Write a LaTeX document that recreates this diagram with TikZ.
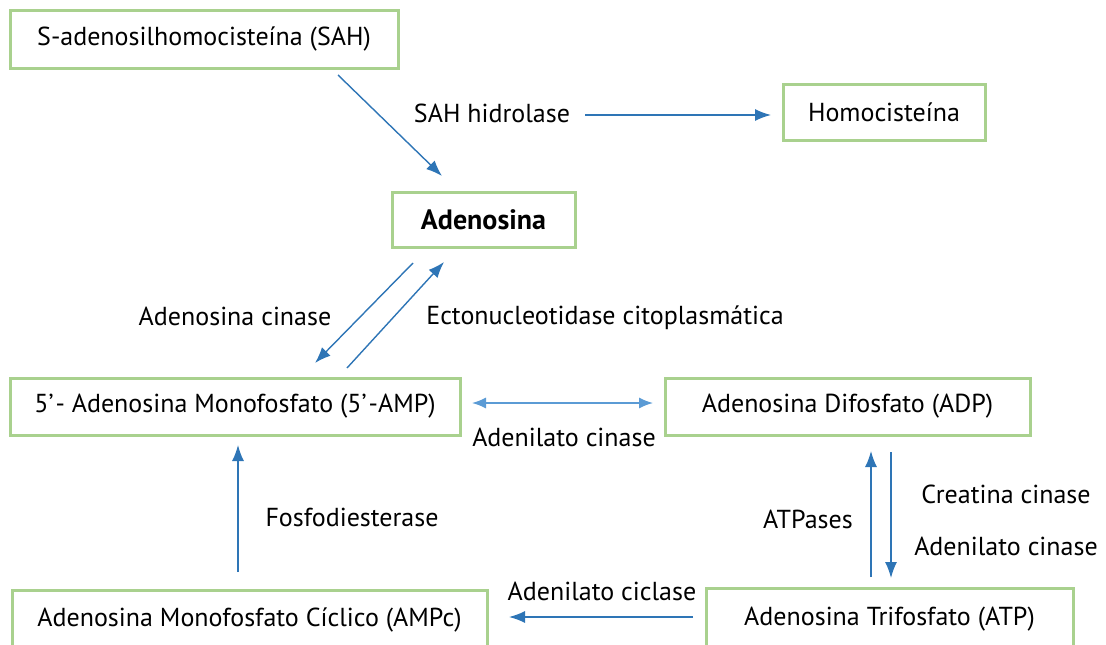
\documentclass[tikz,border=0pt]{standalone}
\usepackage{fontspec}
\setmainfont{PT Sans}
\usetikzlibrary{arrows.meta}
\usetikzlibrary{positioning}
\definecolor{boxgreen}{HTML}{A9D18E}
\definecolor{arrowblue}{HTML}{2E75B6}
\definecolor{lightblue}{HTML}{5B9BD5}
\tikzstyle{molbox} = [draw=boxgreen, line width=3pt, fill=white, inner sep=0pt, text centered, font=\fontsize{26}{30}\selectfont]
\tikzstyle{enzyme} = [inner sep=0pt, font=\fontsize{26}{30}\selectfont]
\tikzstyle{arrow} = [-{Latex[length=16pt,width=12pt]}, line width=1.4pt, draw=arrowblue]

\begin{document}
\begin{tikzpicture}[x=1pt, y=-1pt]

  \useasboundingbox (0,0) rectangle (1106,645);

  % metabolites
  \node[molbox, minimum width=388pt, minimum height=58pt] (sah) at (204,39) {S-adenosilhomocisteína (SAH)};
  \node[molbox, minimum width=202pt, minimum height=56pt] (hcy) at (884,112) {Homocisteína};
  \node[molbox, minimum width=183pt, minimum height=55pt, font=\fontsize{28}{32}\selectfont\bfseries] (ado) at (483.5,219.5) {Adenosina};
  \node[molbox, minimum width=450pt, minimum height=57pt] (amp) at (235,406.5) {5’\kern2pt- Adenosina Monofosfato (5’\kern2pt-AMP)};
  \node[molbox, minimum width=475pt, minimum height=60pt, text depth=6pt] (ampc) at (249.5,620) {Adenosina Monofosfato Cíclico (AMPc)};
  \node[molbox, minimum width=365pt, minimum height=57pt] (adp) at (847.5,406.5) {Adenosina Difosfato (ADP)};
  \node[molbox, minimum width=367pt, minimum height=62pt, text depth=6pt] (atp) at (889.5,619) {Adenosina Trifosfato (ATP)};

  % enzymes
  \node[enzyme] (hidrolase) at (492,113) {SAH hidrolase};
  \node[enzyme] (adocinase) at (235,316) {Adenosina cinase};
  \node[enzyme] (ecto) at (605,318) {Ectonucleotidase citoplasmática};
  \node[enzyme] (adkA) at (564,437) {Adenilato cinase};
  \node[enzyme] (pde) at (352,517) {Fosfodiesterase};
  \node[enzyme] (atpases) at (808,519) {ATPases};
  \node[enzyme] (ck) at (1006,494) {Creatina cinase};
  \node[enzyme] (adkB) at (1006,546) {Adenilato cinase};
  \node[enzyme] (ac) at (602,591) {Adenilato ciclase};

  % arrow ends
  \coordinate (sahout) at (338,75);
  \coordinate (adoin) at (442,176);
  \coordinate (hidout) at (585,115);
  \coordinate (hcyin) at (771,115);
  \coordinate (adoA) at (413,263);
  \coordinate (ampA) at (315,363);
  \coordinate (ampB) at (347,368);
  \coordinate (adoB) at (444,262);
  \coordinate (ampR) at (472,403);
  \coordinate (adpL) at (653,403);
  \coordinate (ampcT) at (238,572);
  \coordinate (ampB2) at (238,445);
  \coordinate (atpT1) at (871,577);
  \coordinate (adpB1) at (871,451);
  \coordinate (adpB2) at (891,452);
  \coordinate (atpT2) at (891,578);
  \coordinate (atpL) at (693,617);
  \coordinate (ampcR) at (509,617);

  \draw[arrow] (sahout) -- (adoin);
  \draw[arrow] (hidout) -- (hcyin);
  \draw[arrow] (adoA) -- (ampA);
  \draw[arrow] (ampB) -- (adoB);
  \draw[arrow, draw=lightblue, {Latex[length=14pt,width=11pt]}-{Latex[length=14pt,width=11pt]}] (ampR) -- (adpL);
  \draw[arrow] (ampcT) -- (ampB2);
  \draw[arrow] (atpT1) -- (adpB1);
  \draw[arrow] (adpB2) -- (atpT2);
  \draw[arrow] (atpL) -- (ampcR);

\end{tikzpicture}
\end{document}
